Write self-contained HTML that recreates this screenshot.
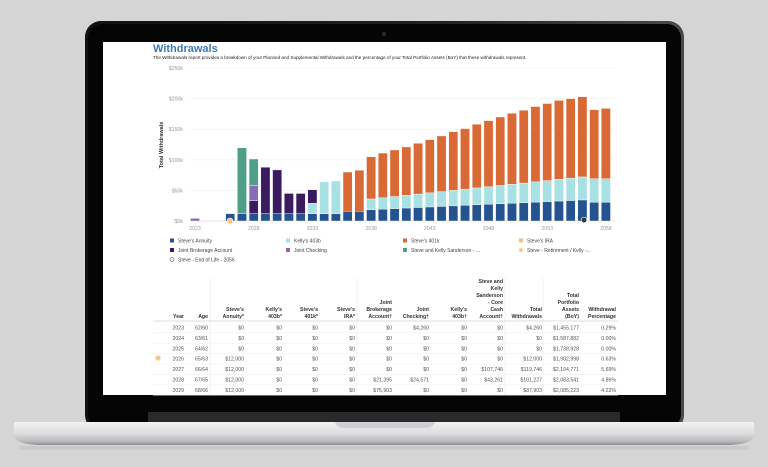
<!DOCTYPE html>
<html><head><meta charset="utf-8"><style>
html,body{margin:0;padding:0;background:#d5d5d5;}
svg{display:block;font-family:"Liberation Sans",Arial,sans-serif;}
</style></head><body>
<svg id="s" width="768" height="467" viewBox="0 0 768 467" xmlns="http://www.w3.org/2000/svg">
<defs>
<linearGradient id="base" x1="0" y1="0" x2="0" y2="1">
<stop offset="0" stop-color="#f2f2f3"/><stop offset="0.5" stop-color="#dcdcde"/><stop offset="0.85" stop-color="#b9b9bc"/><stop offset="1" stop-color="#8d8d90"/></linearGradient>
<linearGradient id="bez" x1="0" y1="0" x2="1" y2="0">
<stop offset="0" stop-color="#111"/><stop offset="0.6" stop-color="#222"/><stop offset="1" stop-color="#4a4a4c"/></linearGradient>
</defs>
<rect width="768" height="467" fill="#d5d5d5"/>
<rect x="85" y="21" width="599" height="410" rx="16" fill="url(#bez)"/>
<rect x="88" y="24" width="593" height="404" rx="14" fill="#050505"/>
<circle cx="384" cy="34" r="2" fill="#2c2a3a"/>
<rect x="103" y="42" width="563" height="353" fill="#fff"/>
<rect x="148" y="412" width="472" height="10" fill="#2a2a2c"/>
<path d="M14 422 H754 V437 Q750 444 730 445 H38 Q18 444 14 437 Z" fill="url(#base)"/>
<path d="M335 422 H435 Q433 428 425 428 H345 Q337 428 335 422Z" fill="#cfcfd2"/>
<rect x="20" y="446" width="728" height="4" fill="#cacaca"/>
<g id="g"></g>
</svg>
<script>
var g=document.getElementById('g'),NS='http://www.w3.org/2000/svg';
function el(t,a,txt){var e=document.createElementNS(NS,t);for(var k in a)e.setAttribute(k,a[k]);if(txt!=null)e.textContent=txt;g.appendChild(e);return e;}
function tx(x,y,s,o){o=o||{};var a={x:x,y:y,'font-size':o.fs||5,fill:o.c||'#555'};if(o.a)a['text-anchor']=o.a;if(o.b)a['font-weight']='bold';if(o.t)a.transform=o.t;return el('text',a,s);}
tx(153,52,'Withdrawals',{fs:11,c:'#3b78b8',b:1});
tx(153,59,'The Withdrawals report provides a breakdown of your Planned and Supplemental Withdrawals and the percentage of your Total Portfolio Assets (BoY) that these withdrawals represent.',{fs:4.6,c:'#222'});
function Y(v){return 221-v*0.612;}
[0,50,100,150,200,250].forEach(function(v){el('line',{x1:190,x2:614,y1:Y(v),y2:Y(v),stroke:v?'#eee':'#ccc','stroke-width':0.6});tx(183,Y(v)+2,'$'+v+'k',{a:'end',c:'#999',fs:5.2});});
tx(0,0,'Total Withdrawals',{fs:5.5,c:'#333',b:1,a:'middle',t:'translate(163,145) rotate(-90)'});
var C={a:'#24538f',l:'#a8e1e3',o:'#d96a35',j:'#3b1b60',c:'#8a6bb8',g:'#4e9e88'};
var D={2023:[['c',4.3]],2024:[],2025:[],2026:[['a',12]],2027:[['a',12],['g',107.7]],2028:[['a',12],['j',21.4],['c',24.6],['g',43.3]],2029:[['a',12],['j',75.9]],2030:[['a',12],['j',71.5]],2031:[['a',12],['j',33]],2032:[['a',12],['j',33]],2033:[['a',12],['l',17],['j',22]],2034:[['a',12],['l',52]],2035:[['a',12],['l',53.5]],2036:[['a',16],['o',64]],2037:[['a',16],['o',67]]};
var tot=[105,111,116,121,127,133,139,146,151,158,164,170,176,181,187,192,197,200,203,182,184];
for(var i=0;i<21;i++){var yr=2038+i,an,lt;if(yr<=2056){an=18.6+(34.4-18.6)*i/18;lt=36+(72-36)*i/18;}else{an=30.6;lt=69;}D[yr]=[['a',an],['l',lt-an],['o',tot[i]-lt]];}
for(var yr=2023;yr<=2058;yr++){var cx=195+(yr-2023)*11.74,b=0;(D[yr]||[]).forEach(function(s){el('rect',{x:cx-4.6,y:Y(b+s[1]),width:9.2,height:s[1]*0.612,fill:C[s[0]],stroke:'#fff','stroke-width':0.4});b+=s[1];});}
[2023,2028,2033,2038,2043,2048,2053,2058].forEach(function(yr){tx(195+(yr-2023)*11.74,230,yr,{a:'middle',c:'#999',fs:5.2});});
el('circle',{cx:230,cy:221,r:3,fill:'#f7c48a',stroke:'#fff','stroke-width':0.6});
el('circle',{cx:584,cy:220,r:2.8,fill:'#2a3347',stroke:'#fff','stroke-width':0.6});
var L=[[172,241,'#24538f',"Steve's Annuity"],[288,241,'#a8e1e3',"Kelly's 403b"],[405,241,'#d96a35',"Steve's 401k"],[521,241,'#f5c07a',"Steve's IRA"],[172,250.5,'#3b1b60','Joint Brokerage Account'],[288,250.5,'#8a6bb8','Joint Checking'],[405,250.5,'#4e9e88','Steve and Kelly Sanderson - ...'],[521,250.5,null,'Steve - Retirement / Kelly -...'],[172,260,null,'Steve - End of Life - 2056']];
L.forEach(function(l,i){if(l[2])el('rect',{x:l[0]-2,y:l[1]-2.5,width:4,height:4,fill:l[2]});else el('circle',{cx:l[0],cy:l[1]-0.5,r:2,fill:i==7?'#f7c48a':'#fff',stroke:i==7?'#fbe0c0':'#556','stroke-width':0.6});tx(l[0]+6,l[1]+1.5,l[3],{fs:5,c:'#444'});});
// table
var cols=[184,208,244,282,318,355,392,429,467,503,542,579,616];
var H=[['Year'],['Age'],["Steve's","Annuity*"],["Kelly's","403b*"],["Steve's","401k*"],["Steve's","IRA*"],['Joint','Brokerage','Account\u2020'],['Joint','Checking\u2020'],["Kelly's","403b\u2020"],['Steve and','Kelly','Sanderson','- Core','Cash','Account\u2020'],['Total','Withdrawals'],['Total','Portfolio','Assets','(BoY)'],['Withdrawal','Percentage']];
H.forEach(function(h,i){h.forEach(function(s,k){tx(cols[i],318-(h.length-1-k)*7,s,{a:'end',b:1,c:'#333',fs:5.2});});});
[210,357,505,543].forEach(function(x){el('line',{x1:x,x2:x,y1:278,y2:395,stroke:'#e6e6e6','stroke-width':0.6});});
el('line',{x1:153,x2:618,y1:321,y2:321,stroke:'#bbb','stroke-width':0.6});
var R=[['2023','62/60','$0','$0','$0','$0','$0','$4,260','$0','$0','$4,260','$1,455,177','0.29%'],['2024','63/61','$0','$0','$0','$0','$0','$0','$0','$0','$0','$1,587,882','0.00%'],['2025','64/62','$0','$0','$0','$0','$0','$0','$0','$0','$0','$1,738,928','0.00%'],['2026','65/63','$12,000','$0','$0','$0','$0','$0','$0','$0','$12,000','$1,902,998','0.63%'],['2027','66/64','$12,000','$0','$0','$0','$0','$0','$0','$107,746','$119,746','$2,104,771','5.69%'],['2028','67/65','$12,000','$0','$0','$0','$21,395','$24,571','$0','$43,261','$101,227','$2,083,541','4.86%'],['2029','68/66','$12,000','$0','$0','$0','$75,903','$0','$0','$0','$87,903','$2,085,223','4.22%']];
R.forEach(function(r,j){var y=329.5+j*10.4;r.forEach(function(s,i){tx(cols[i],y,s,{a:'end',c:'#555',fs:5.2});});el('line',{x1:153,x2:618,y1:y+3.3,y2:y+3.3,stroke:'#eee','stroke-width':0.5});});
el('circle',{cx:158,cy:358,r:2.6,fill:'#f7c48a',stroke:'#fde3c4','stroke-width':1});
</script>
</body></html>
